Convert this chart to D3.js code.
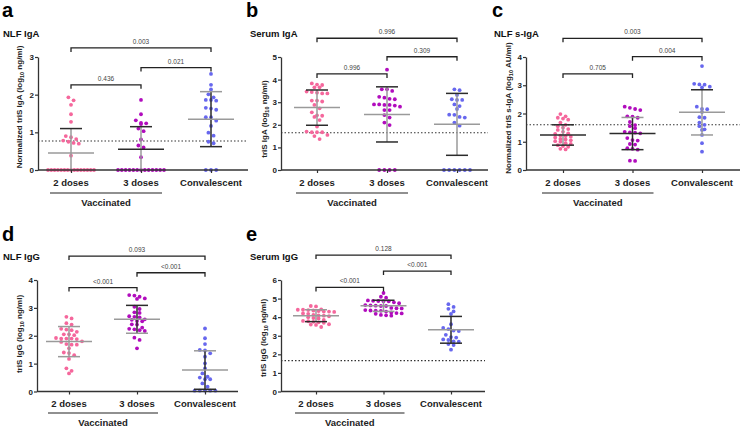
<!DOCTYPE html>
<html><head><meta charset="utf-8">
<script src="https://cdn.jsdelivr.net/npm/d3@7"></script>
<style>
html,body{margin:0;padding:0;background:#fff;}
svg{display:block;font-family:"Liberation Sans",Arial,sans-serif;}
</style></head>
<body>
<svg id="chart" width="740" height="429"></svg>
<script>
// ---------------- DATA ----------------
const categories = ["2 doses", "3 doses", "Convalescent"];

// a: NLF IgA
const aTwo   = [1.93,1.85,1.73,1.48,1.28,0.9,0.87,0.82,0.78,0.75,0.72,0.7,0.38,0,0,0,0,0,0,0,0,0,0,0,0,0,0,0];
const aThree = [1.86,1.48,1.32,1.24,1.22,1.25,1.1,1.03,0.81,0.65,0.6,0.34,0,0,0,0,0,0,0,0,0,0,0,0,0];
const aConv  = [2.55,2.26,2.14,2.01,1.93,1.86,1.86,1.84,1.65,1.63,1.6,1.4,1.4,1.31,1.17,0.99,0.91,0.75,0.71,0,0,0];
const aMean = [0.45, 0.55, 1.35];
const aSD   = [0.65, 0.60, 0.73];
const aP    = ["0.003", "0.021", "0.436"];

// b: Serum IgA
const bTwo   = [3.83,3.78,3.76,3.66,3.66,3.47,3.45,3.42,3.39,3.39,3.07,3.07,3.03,2.88,2.73,2.55,2.4,2.35,2.42,2.21,1.92,1.67,1.67,1.7,1.67,1.5,1.55,1.37];
const bThree = [4.44,3.57,3.57,3.5,3.24,3.2,3.13,3.15,2.88,2.9,2.8,2.85,2.88,2.9,2.65,2.65,2.43,2.32,2.1,1.99,0,0,0,0];
const bConv  = [3.57,3.53,3.32,3.13,3.1,3.1,2.9,2.83,2.7,2.44,2.35,2.32,2.45,2.1,1.96,0,0,0,0,0,0];
const bMean = [2.76, 2.46, 2.02];
const bSD   = [0.78, 1.22, 1.37];
const bP    = ["0.996", "0.309", "0.996"];

// c: NLF s-IgA
const cTwo   = [1.98,1.9,1.85,1.82,1.78,1.68,1.6,1.55,1.5,1.45,1.42,1.35,1.3,1.28,1.22,1.2,1.18,1.15,1.1,1.08,1.05,1.02,1.0,0.95,0.92,0.88,0.85,0.82,0.75,0.73];
const cThree = [2.24,2.2,2.16,2.12,1.9,1.89,1.85,1.7,1.59,1.55,1.48,1.35,1.33,1.32,1.3,1.13,1.06,1.04,0.92,0.9,0.77,0.75,0.72,0.32,0.33];
const cConv  = [3.68,3.05,3.02,3.03,2.95,2.92,2.24,2.16,2.15,2.05,1.87,1.85,1.68,1.6,1.55,1.44,1.42,1.24,0.95,0.65];
const cMean = [1.24, 1.29, 2.04];
const cSD   = [0.36, 0.57, 0.80];
const cP    = ["0.003", "0.004", "0.705"];

// d: NLF IgG
const dTwo   = [2.68,2.62,2.45,2.4,2.25,2.22,2.2,2.14,2.05,2.05,2.02,1.92,1.9,1.9,1.88,1.9,1.8,1.78,1.7,1.68,1.68,1.55,1.4,1.38,1.3,1.17,0.83,0.74,0.65];
const dThree = [3.46,3.44,3.4,3.34,3.32,3.04,2.96,2.84,2.82,2.7,2.68,2.66,2.59,2.57,2.53,2.52,2.41,2.4,2.29,2.25,2.23,2.2,2.17,1.93,1.85,1.55];
const dConv  = [2.26,1.91,1.7,1.49,1.47,1.37,1.25,1.01,0.83,0.65,0.53,0.5,0.44,0.44,0.29,0.17,0.03,0.03,0.03,0.03,0.03];
const dMean = [1.79, 2.59, 0.77];
const dSD   = [0.54, 0.50, 0.69];
const dP    = ["0.093", "<0.001", "<0.001"];

// e: Serum IgG
const eTwo   = [4.6,4.58,4.42,4.4,4.4,4.38,4.36,4.33,4.3,4.3,4.28,4.2,4.18,4.12,4.1,4.08,4.05,4.0,3.95,3.93,3.85,3.8,3.78,3.75,3.72,3.7,3.62,3.6,3.58,3.47];
const eThree = [5.3,5.1,5.05,4.9,4.88,4.87,4.86,4.85,4.8,4.75,4.65,4.63,4.62,4.6,4.6,4.5,4.48,4.47,4.38,4.36,4.35,4.34,4.3,4.25,4.22,4.2,4.18,4.12,4.1,4.08];
const eConv  = [4.7,4.55,4.45,4.31,4.17,3.62,3.42,3.36,3.28,3.25,3.05,2.93,2.9,2.8,2.77,2.7,2.68,2.55,2.5,2.25];
const eMean = [4.08, 4.61, 3.32];
const eSD   = [0.32, 0.30, 0.72];
const eP    = ["0.128", "<0.001", "<0.001"];

const yMax       = [3, 5, 4, 4, 6];
const thresholds = [0.77, 1.65, 1.6, null, 1.66];
// bracket heights (data units): [2→conv, 3→conv, 2→3]
const bracketLevels = [[3.24,2.72,2.26],[5.83,5.01,4.25],[4.66,4.01,3.4],[4.86,4.26,3.73],[7.34,6.48,5.6]];

// ---------------- LAYOUT / STYLE ----------------
const colors = ["#f5679c", "#b10cbd", "#6767ee"];
const G = "#9a9a9a", K = "#2b2b2b";
// per group: [vertical, mean, upper cap, lower cap]
const barStyles = [
  [[G,G,K,K],[G,K,K,K],[K,G,G,K]],
  [[G,G,K,K],[G,G,K,K],[G,G,K,K]],
  [[G,K,K,K],[K,K,G,K],[G,G,K,G]],
  [[G,G,G,G],[K,G,K,G],[K,G,G,K]],
  [[G,G,G,K],[G,G,K,G],[K,G,K,K]]
];

const panels = [
  {letter:"a", title:"NLF IgA", ylab:["Normalized triS IgA (log","10"," ng/ml)"], data:[aTwo,aThree,aConv], mean:aMean, sd:aSD, p:aP,
   ax:38, xEnd:248, c0:71, c2:211, yTop:57, yBot:170, lx:2, tx:3, ylx:22, yly:107, row:0},
  {letter:"b", title:"Serum IgA", ylab:["triS IgA (log","10"," ng/ml)"], data:[bTwo,bThree,bConv], mean:bMean, sd:bSD, p:bP,
   ax:281, xEnd:488, c0:317, c2:457, yTop:57, yBot:170, lx:246, tx:250, ylx:267, yly:119, row:0},
  {letter:"c", title:"NLF s-IgA", ylab:["Normalized triS s-IgA (log","10"," AU/ml)"], data:[cTwo,cThree,cConv], mean:cMean, sd:cSD, p:cP,
   ax:526, xEnd:740, c0:563, c2:702, yTop:57, yBot:170, lx:492, tx:494, ylx:511, yly:108, row:0},
  {letter:"d", title:"NLF IgG", ylab:["triS IgG (log","10"," ng/ml)"], data:[dTwo,dThree,dConv], mean:dMean, sd:dSD, p:dP,
   ax:37, xEnd:238, c0:69, c2:205, yTop:280, yBot:391.5, lx:2, tx:3, ylx:22, yly:334, row:1},
  {letter:"e", title:"Serum IgG", ylab:["triS IgG (log","10"," ng/ml)"], data:[eTwo,eThree,eConv], mean:eMean, sd:eSD, p:eP,
   ax:281, xEnd:485, c0:316, c2:451, yTop:280, yBot:391.5, lx:246, tx:250, ylx:266, yly:338, row:1}
];
const rowText = [
  {letter:17, title:37, cat:186, vline:193, vtext:206},
  {letter:241, title:260, cat:407, vline:413, vtext:426}
];

const svg = d3.select("#chart");
svg.append("rect").attr("width",740).attr("height",429).attr("fill","#fff");

function swarm(values, y, cx) {
  const binH = 3.4, gap = 5.2, maxW = 46;
  const pts = values.map(v => ({v, py: y(v)})).sort((a,b) => a.py - b.py);
  const rows = []; let cur = null;
  for (const p of pts) {
    if (cur && p.py - cur[0].py < binH) cur.push(p); else { cur = [p]; rows.push(cur); }
  }
  rows.forEach(row => {
    const n = row.length;
    const sp = n > 1 ? Math.min(gap, maxW/(n-1)) : 0;
    row.forEach((p,i) => { p.px = cx + (i - (n-1)/2) * sp; });
  });
  return pts;
}

panels.forEach((P, pi) => {
  const rt = rowText[P.row];
  const g = svg.append("g");
  const y = d3.scaleLinear().domain([0, yMax[pi]]).range([P.yBot, P.yTop]);
  const x = d3.scalePoint().domain(categories).range([P.c0, P.c2]);

  g.append("text").attr("x", P.lx).attr("y", rt.letter).attr("font-size", 20).attr("font-weight", "bold").attr("fill","#000").text(P.letter);
  g.append("text").attr("x", P.tx).attr("y", rt.title).attr("font-size", 9.5).attr("font-weight", "bold").attr("fill","#111").text(P.title);

  if (thresholds[pi] != null) {
    g.append("line").attr("x1", P.ax).attr("x2", P.xEnd).attr("y1", y(thresholds[pi])).attr("y2", y(thresholds[pi]))
      .attr("stroke", "#333").attr("stroke-width", 1.1).attr("stroke-dasharray", "1.5,2");
  }

  P.data.forEach((vals, ci) => {
    const pts = swarm(vals, y, x(categories[ci]));
    g.selectAll(null).data(pts).enter().append("circle")
      .attr("cx", d => d.px).attr("cy", d => d.py).attr("r", 1.9).attr("fill", colors[ci]);
  });

  P.mean.forEach((m, ci) => {
    const cx = x(categories[ci]);
    const st = barStyles[pi][ci];
    const hi = m + P.sd[ci], lo = Math.max(0, m - P.sd[ci]);
    g.append("line").attr("x1", cx).attr("x2", cx).attr("y1", y(hi)).attr("y2", y(lo)).attr("stroke", st[0]).attr("stroke-width", 1.5);
    g.append("line").attr("x1", cx-23).attr("x2", cx+23).attr("y1", y(m)).attr("y2", y(m)).attr("stroke", st[1]).attr("stroke-width", 1.5);
    g.append("line").attr("x1", cx-11).attr("x2", cx+11).attr("y1", y(hi)).attr("y2", y(hi)).attr("stroke", st[2]).attr("stroke-width", 1.5);
    if (m - P.sd[ci] > 0)
      g.append("line").attr("x1", cx-11).attr("x2", cx+11).attr("y1", y(lo)).attr("y2", y(lo)).attr("stroke", st[3]).attr("stroke-width", 1.5);
  });

  const yAxis = d3.axisLeft(y).ticks(yMax[pi]).tickFormat(d3.format("d")).tickSize(3).tickSizeOuter(0);
  const ya = g.append("g").attr("transform", `translate(${P.ax},0)`).call(yAxis);
  ya.select(".domain").attr("stroke", "#333").attr("stroke-width", 1.3);
  ya.selectAll(".tick line").attr("stroke", "#333").attr("stroke-width", 1.2);
  ya.selectAll(".tick text").attr("font-size", 8).attr("font-weight", "bold").attr("fill", "#222").attr("font-family", "Liberation Sans, Arial, sans-serif").attr("x", -4);

  g.append("line").attr("x1", P.ax).attr("x2", P.xEnd).attr("y1", P.yBot).attr("y2", P.yBot).attr("stroke", "#333").attr("stroke-width", 1.3);
  const xAxis = d3.axisBottom(x).tickSize(3).tickSizeOuter(0).tickFormat("");
  const xa = g.append("g").attr("transform", `translate(0,${P.yBot})`).call(xAxis);
  xa.select(".domain").remove();
  xa.selectAll(".tick line").attr("stroke", "#333").attr("stroke-width", 1.2);
  categories.forEach(c => {
    g.append("text").attr("x", x(c)).attr("y", rt.cat).attr("text-anchor", "middle").attr("font-size", 9.5)
      .attr("font-weight", "bold").attr("fill", "#222").text(c);
  });

  const vx0 = x(categories[0]) - 21, vx1 = x(categories[1]) + 21;
  g.append("line").attr("x1", vx0).attr("x2", vx1).attr("y1", rt.vline).attr("y2", rt.vline).attr("stroke", "#222").attr("stroke-width", 1.2);
  g.append("text").attr("x", (vx0+vx1)/2).attr("y", rt.vtext).attr("text-anchor", "middle").attr("font-size", 9.5)
    .attr("font-weight", "bold").attr("fill", "#222").text("Vaccinated");

  const yl = g.append("text").attr("transform", `translate(${P.ylx},${P.yly}) rotate(-90)`)
    .attr("text-anchor", "middle").attr("font-size", 8).attr("font-weight", "bold").attr("fill", "#222");
  yl.append("tspan").text(P.ylab[0]);
  yl.append("tspan").attr("font-size", 5.5).attr("dy", 2).text(P.ylab[1]);
  yl.append("tspan").attr("dy", -2).text(P.ylab[2]);

  const pairs = [[0,2],[1,2],[0,1]];
  pairs.forEach((pr, k) => {
    const by = y(bracketLevels[pi][k]);
    const x1 = x(categories[pr[0]]), x2 = x(categories[pr[1]]);
    g.append("path").attr("d", `M${x1},${by+4}V${by}H${x2}V${by+4}`).attr("fill", "none").attr("stroke", "#222").attr("stroke-width", 1.3);
    g.append("text").attr("x", (x1+x2)/2).attr("y", by-4).attr("text-anchor", "middle").attr("font-size", 6.5)
      .attr("fill", "#444").text(P.p[k]);
  });
});
</script>
</body></html>
